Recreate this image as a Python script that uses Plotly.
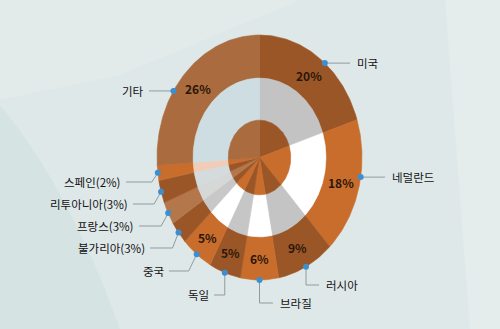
import numpy as np
import plotly.graph_objects as go

# ---- data ----
countries = ["미국", "네덜란드", "러시아", "브라질", "독일", "중국",
             "불가리아", "프랑스", "리투아니아", "스페인", "기타"]
shares = [20, 18, 9, 6, 5, 5, 3, 3, 3, 2, 26]
outer_labels = ["미국", "네덜란드", "러시아", "브라질", "독일", "중국",
                "불가리아(3%)", "프랑스(3%)", "리투아니아(3%)", "스페인(2%)", "기타"]
inner_pct_labels = ["20%", "18%", "9%", "6%", "5%", "5%", "", "", "", "", "26%"]

# ---- styles ----
outer_colors = ["#9b5628", "#c96d2d", "#9b5628", "#c96d2d", "#9b5628", "#c96d2d",
                "#9b5628", "#b3774b", "#9b5628", "#c96d2d", "#aa6c3f"]
middle_colors = ["#c3c3c3", "#ffffff", "#c4c4c4", "#ffffff", "#c6c6c6", "#ffffff",
                 "#c8c8c8", "#d6d8d8", "#d3dbdd", "#f1cdb8", "#cddde2"]

W, H = 500, 329
CX, CY = 259.5, 157.5          # ellipse centre (px)
AX, BY = 102.5, 122.5          # outer semi-axes (px)
R_MID, R_CORE = 0.648, 0.305   # relative radii of ring boundaries
LABEL_R = 0.825

# label placement: (anchor fraction in slice, text x, text y or None, elbow dx, xanchor)
label_layout = [
    (0.55, 355, None, 0, "left"),
    (0.42, 390, None, 0, "left"),
    (0.5, 324, 285, 0, "left"),
    (0.5, 278, 303, 0, "left"),
    (0.5, 211, 295, 0, "right"),
    (0.5, 166, 271, -8, "right"),
    (0.5, 147, 248, -6, "right"),
    (0.5, 136, 226, -7, "right"),
    (0.5, 130, 204, -7, "right"),
    (0.5, 123, 182, -6, "right"),
    (0.39, 146, None, 0, "right"),
]


def pt(theta, r):
    return CX + AX * r * np.sin(theta), CY - BY * r * np.cos(theta)


def wedge(t0, t1, r0, r1):
    ts = np.linspace(t0, t1, max(8, int((t1 - t0) * 60)))
    xo, yo = pt(ts, r1)
    if r0 > 0:
        xi, yi = pt(ts[::-1], r0)
    else:
        xi, yi = np.array([CX]), np.array([CY])
    return np.concatenate([xo, xi, xo[:1]]), np.concatenate([yo, yi, yo[:1]])


fig = go.Figure()

total = float(sum(shares))
bounds = np.concatenate([[0], np.cumsum(shares)]) / total * 2 * np.pi

for i, name in enumerate(countries):
    t0, t1 = bounds[i], bounds[i + 1]
    for (r0, r1, col) in [(R_MID, 1.0, outer_colors[i]),
                          (R_CORE, R_MID, middle_colors[i]),
                          (0.0, R_CORE, outer_colors[i])]:
        xs, ys = wedge(t0, t1, r0, r1)
        fig.add_trace(go.Scatter(x=xs, y=ys, mode="lines", fill="toself",
                                 fillcolor=col, line=dict(color=col, width=0.6),
                                 hoverinfo="text", text=f"{name} {shares[i]}%",
                                 showlegend=False))

# percentage labels inside ring
for i, lab in enumerate(inner_pct_labels):
    if not lab:
        continue
    tm = (bounds[i] + bounds[i + 1]) / 2
    x, y = pt(tm, LABEL_R)
    fig.add_annotation(x=x, y=y, text=f"<b>{lab}</b>", showarrow=False,
                       font=dict(family="Noto Sans CJK KR", size=12, color="#2b1608"))

# leader lines, dots and outer labels
for i, lab in enumerate(outer_labels):
    frac, lx, ly, kdx, anchor = label_layout[i]
    ta = bounds[i] + frac * (bounds[i + 1] - bounds[i])
    dx, dy = pt(ta, 1.0)
    yy = dy if ly is None else ly
    end_x = lx + 3 if anchor == "right" else lx - 5
    fig.add_trace(go.Scatter(x=[dx, dx + kdx, end_x], y=[dy, yy, yy], mode="lines",
                             line=dict(color="#8d9ba0", width=1), hoverinfo="skip",
                             showlegend=False))
    fig.add_trace(go.Scatter(x=[dx], y=[dy], mode="markers",
                             marker=dict(color="#3b8fd1", size=6), hoverinfo="skip",
                             showlegend=False))
    fig.add_annotation(x=lx, y=yy, text=lab, showarrow=False, xanchor=anchor,
                       font=dict(family="Noto Sans CJK KR", size=11.5, color="#111111"))

# subtle background facets
fig.add_shape(type="path", path="M 0 105 Q 70 190 120 329 L 0 329 Z",
              fillcolor="#d6e3e3", line=dict(width=0), layer="below")
fig.add_shape(type="path", path="M 0 0 L 300 0 L 120 75 L 0 100 Z",
              fillcolor="#e2eaea", line=dict(width=0), layer="below")
fig.add_shape(type="path", path="M 445 0 L 500 0 L 500 329 L 470 329 Z",
              fillcolor="#e4ecec", line=dict(width=0), layer="below")

fig.update_layout(
    width=W, height=H, margin=dict(l=0, r=0, t=0, b=0),
    paper_bgcolor="#dfe8e9", plot_bgcolor="rgba(0,0,0,0)",
    xaxis=dict(range=[0, W], visible=False, fixedrange=True),
    yaxis=dict(range=[H, 0], visible=False, fixedrange=True),
    showlegend=False,
)

fig.write_html("out.html")
